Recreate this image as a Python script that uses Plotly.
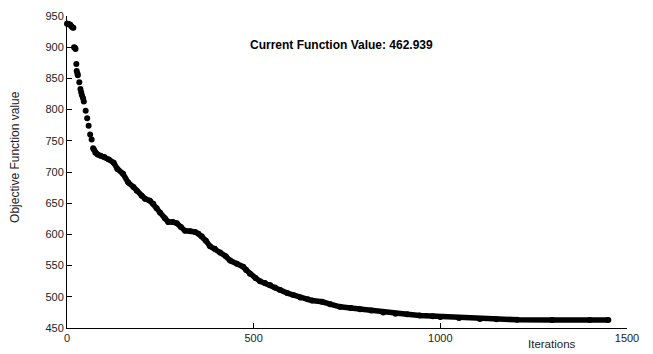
import plotly.graph_objects as go

# Early, sparse iterations (drawn as separate dots)
early_iter = [0, 2, 4, 6, 9, 12, 15, 17, 19, 21, 23, 25, 26, 28, 29, 33, 36, 38, 40, 43, 45, 50, 54, 58, 62, 66, 70]
early_val = [937.5, 937.5, 937, 936.5, 936, 933, 931.5, 931, 900, 899, 897, 873, 862, 858, 855, 844, 833, 828, 823, 818, 813, 798, 786, 774, 760, 752, 738]

# Dense iterations (dots overlap into a thick trace)
dense_iter = [72, 76, 82, 90, 100, 112, 125, 135, 150, 164, 178, 187, 200, 209, 222, 231, 240, 249, 262, 271,
              283, 294, 305, 316, 330, 343, 352, 361, 372, 383, 396, 410, 425, 437, 455, 472, 480, 490, 505, 517,
              530, 544, 557, 571, 590, 606, 625, 645, 656, 683, 705, 731, 760, 785, 815, 847, 880, 911, 945, 980,
              1000, 1050, 1106, 1150, 1205, 1300, 1400, 1450]
dense_val = [736, 731, 728, 726, 724, 720, 715, 705, 697, 683, 676, 670, 662, 657, 654, 649, 642, 635, 626, 620,
             620, 618, 612, 606, 605, 604, 601, 597, 590, 581, 577, 571, 565, 558, 553, 548, 543, 537, 530, 525,
             522, 519, 515, 511, 506, 503, 499, 496, 494, 492, 488, 484, 482, 480, 478, 475, 473, 472, 470, 469,
             467.5, 466, 464.5, 464, 463.2, 463, 463, 462.9]

x_ticks = [0, 500, 1000, 1500]
y_ticks = [450, 500, 550, 600, 650, 700, 750, 800, 850, 900, 950]

title_text = "Current Function Value: 462.939"
x_label = "Iterations"
y_label = "Objective Function value"

FONT = "Liberation Sans, Arial, Helvetica, sans-serif"

fig = go.Figure()
fig.add_trace(go.Scatter(x=early_iter, y=early_val, mode="markers", cliponaxis=False,
                         marker=dict(color="black", size=6, line=dict(width=0)),
                         showlegend=False, hoverinfo="skip"))
fig.add_trace(go.Scatter(x=dense_iter, y=dense_val, mode="lines+markers", cliponaxis=False,
                         line=dict(color="black", width=5.5),
                         marker=dict(color="black", size=6, line=dict(width=0)),
                         showlegend=False, hoverinfo="skip"))

fig.update_layout(
    width=653, height=354,
    margin=dict(l=67, r=26, t=10, b=23),
    paper_bgcolor="white", plot_bgcolor="white",
    font=dict(family=FONT, size=11, color="#222"),
    xaxis=dict(range=[0, 1500], tickvals=x_ticks, ticktext=[str(v) for v in x_ticks],
               showgrid=False, zeroline=False, showline=True, linecolor="black", linewidth=1,
               ticks="inside", ticklen=5, tickcolor="black", tickfont=dict(size=11)),
    yaxis=dict(range=[450, 950], tickvals=y_ticks, ticktext=[str(v) for v in y_ticks],
               showgrid=False, zeroline=False, showline=True, linecolor="black", linewidth=1,
               ticks="inside", ticklen=5, tickcolor="black", tickfont=dict(size=11)),
    annotations=[
        dict(text="<b>" + title_text + "</b>", x=0.491, y=0.907, xref="paper", yref="paper",
             showarrow=False, xanchor="center", yanchor="middle", font=dict(size=12, color="black")),
        dict(text=x_label, x=0.866, y=-0.05, xref="paper", yref="paper",
             showarrow=False, xanchor="center", yanchor="middle", font=dict(size=11.5, color="#222")),
        dict(text=y_label, x=-0.093, y=0.548, xref="paper", yref="paper", textangle=-90,
             showarrow=False, xanchor="center", yanchor="middle", font=dict(size=12, color="#222")),
    ],
)

fig.write_html("out.html")
